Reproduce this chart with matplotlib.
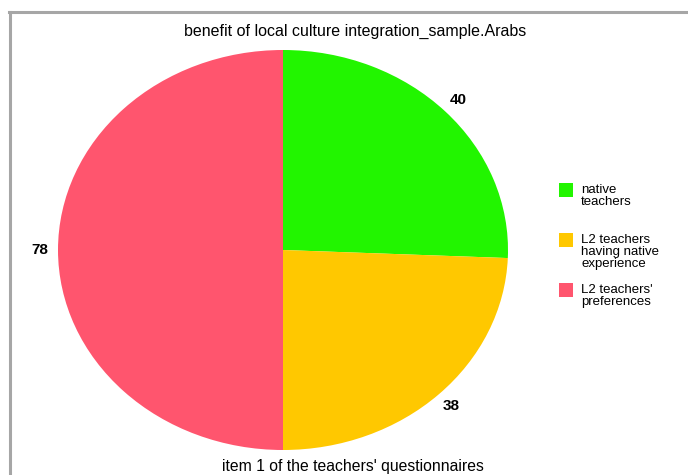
import matplotlib.pyplot as plt
from matplotlib.patches import Rectangle
from matplotlib.lines import Line2D

plt.rcParams['font.family'] = ['Liberation Sans', 'DejaVu Sans']

# answers per group
groups = ["native\nteachers",
          "L2 teachers\nhaving native\nexperience",
          "L2 teachers'\npreferences"]
counts = [40, 38, 78]
colors = ["#22f500", "#ffc800", "#ff556e"]

title = "benefit of local culture integration_sample.Arabs"
xlabel = "item 1 of the teachers' questionnaires"

W, H = 688, 475
fig = plt.figure(figsize=(W / 100, H / 100), dpi=100)


def fx(x):
    return x / W


def fy(y):
    # pixel row measured from the top
    return 1 - y / H


# frame lines on the left and top
fig.add_artist(Line2D([fx(10), fx(10)], [fy(12), fy(H)], color="#a6a6a6", lw=2.2,
                      transform=fig.transFigure))
fig.add_artist(Line2D([fx(9), fx(W)], [fy(12), fy(12)], color="#a6a6a6", lw=2.2,
                      transform=fig.transFigure))

# pie stretched into an ellipse
ax = fig.add_axes([fx(58), fy(450), fx(450), 400 / H])
wedges, texts = ax.pie(counts, labels=[str(c) for c in counts], colors=colors,
                       startangle=90, counterclock=False, labeldistance=1.08,
                       wedgeprops=dict(linewidth=0))
for t in texts:
    t.set_ha("center")
    t.set_va("center")
    t.set_fontsize(11)
    t.set_fontweight("bold")
ax.set_xlim(-1, 1)
ax.set_ylim(-1, 1)
ax.set_aspect("auto")
ax.axis("off")

fig.text(fx(355), fy(31), title, ha="center", va="center", fontsize=11.5)
fig.text(fx(353), fy(466), xlabel, ha="center", va="center", fontsize=11.3)

# legend drawn by hand with fixed spacing
for i, (name, col) in enumerate(zip(groups, colors)):
    top = 183 + 50 * i
    fig.add_artist(Rectangle((fx(559), fy(top + 14)), fx(14), 14 / H, color=col,
                             transform=fig.transFigure, lw=0))
    fig.text(fx(581), fy(top + 1), name, ha="left", va="top", fontsize=9.5,
             linespacing=1.02)

fig.savefig("out.png", dpi=100)
